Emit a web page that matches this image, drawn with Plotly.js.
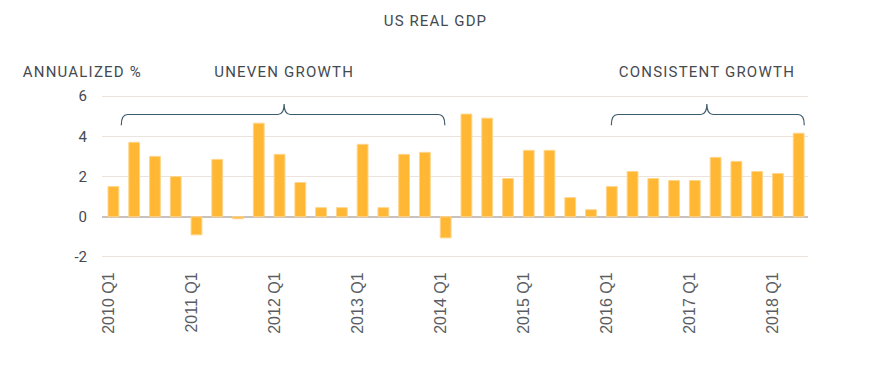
<!DOCTYPE html>
<html>
<head>
<meta charset="utf-8">
<script src="https://cdn.plot.ly/plotly-3.0.1.min.js"></script>
<style>
html,body{margin:0;padding:0;background:#fff;}
#chart{width:871px;height:371px;}
#chart .gtitle{letter-spacing:1.1px;}
#chart .annotation-text{letter-spacing:1.2px;}
</style>
</head>
<body>
<div id="chart"></div>
<script>
const quarters = [
  "2010 Q1","2010 Q2","2010 Q3","2010 Q4",
  "2011 Q1","2011 Q2","2011 Q3","2011 Q4",
  "2012 Q1","2012 Q2","2012 Q3","2012 Q4",
  "2013 Q1","2013 Q2","2013 Q3","2013 Q4",
  "2014 Q1","2014 Q2","2014 Q3","2014 Q4",
  "2015 Q1","2015 Q2","2015 Q3","2015 Q4",
  "2016 Q1","2016 Q2","2016 Q3","2016 Q4",
  "2017 Q1","2017 Q2","2017 Q3","2017 Q4",
  "2018 Q1","2018 Q2"
];
const gdpGrowth = [
  1.5, 3.7, 3.0, 2.0,
  -0.9, 2.85, -0.1, 4.65,
  3.1, 1.7, 0.45, 0.45,
  3.6, 0.45, 3.1, 3.2,
  -1.05, 5.1, 4.9, 1.9,
  3.3, 3.3, 0.95, 0.35,
  1.5, 2.25, 1.9, 1.8,
  1.8, 2.95, 2.75, 2.25,
  2.15, 4.15
];
const tickQuarters = ["2010 Q1","2011 Q1","2012 Q1","2013 Q1","2014 Q1","2015 Q1","2016 Q1","2017 Q1","2018 Q1"];
const yTicks = [-2, 0, 2, 4, 6];
const phases = [
  {label: "UNEVEN GROWTH", from: 0.38, to: 15.96, mid: 8.22},
  {label: "CONSISTENT GROWTH", from: 23.98, to: 33.27, mid: 28.58}
];

const dinFont = "Roboto, 'DejaVu Sans', sans-serif";
const textColor = "#454a50";

function bracePath(x0, x1, xm) {
  const yEnd = 4.55, yLine = 5.08, yPeak = 5.6, dx = 0.3;
  return `M ${x0},${yEnd} Q ${x0},${yLine} ${x0+dx},${yLine} ` +
         `L ${xm-dx},${yLine} Q ${xm},${yLine} ${xm},${yPeak} ` +
         `Q ${xm},${yLine} ${xm+dx},${yLine} ` +
         `L ${x1-dx},${yLine} Q ${x1},${yLine} ${x1},${yEnd}`;
}

const shapes = phases.map(p => ({
  type: 'path', xref: 'x', yref: 'y',
  path: bracePath(p.from, p.to, p.mid),
  line: {color: '#3e5b6d', width: 1.2}
}));

const annotations = [
  {text: "ANNUALIZED %", xref: 'paper', yref: 'paper', x: -0.1055, y: 1.141,
   xanchor: 'left', yanchor: 'middle', showarrow: false,
   font: {family: dinFont, size: 15, color: textColor}}
].concat(phases.map(p => ({
  text: p.label, xref: 'x', yref: 'paper', x: p.mid, y: 1.141,
  xanchor: 'center', yanchor: 'middle', showarrow: false,
  font: {family: dinFont, size: 15, color: textColor}
})));

const data = [{
  type: 'bar',
  x: quarters,
  y: gdpGrowth,
  marker: {color: '#ffb734', line: {color: '#ffd58a', width: 1}},
  hoverinfo: 'x+y'
}];

const layout = {
  width: 871, height: 371,
  margin: {l: 102, r: 63, t: 95, b: 113},
  paper_bgcolor: '#ffffff', plot_bgcolor: '#ffffff',
  showlegend: false,
  bargap: 0.48,
  title: {text: "US REAL GDP", x: 0.5, xanchor: 'center', y: 0.943, yanchor: 'middle',
          yref: 'container', font: {family: dinFont, size: 15, color: textColor}},
  xaxis: {
    type: 'category',
    range: [-0.55, 33.45],
    tickmode: 'array', tickvals: tickQuarters, ticktext: tickQuarters,
    tickangle: -90,
    ticks: 'outside', ticklen: 7, tickcolor: 'rgba(0,0,0,0)',
    ticklabelshift: -5,
    tickfont: {family: "'Liberation Sans', Arial, sans-serif", size: 16, color: '#5a5e63'},
    showgrid: false, zeroline: false, showline: false
  },
  yaxis: {
    range: [-2.05, 6.05],
    tickmode: 'array', tickvals: yTicks, ticktext: yTicks.map(String),
    ticks: 'outside', ticklen: 11, tickcolor: 'rgba(0,0,0,0)',
    tickfont: {family: dinFont, size: 15, color: textColor},
    showgrid: true, gridcolor: '#ebe3dc', gridwidth: 1,
    zeroline: true, zerolinecolor: '#c8c1bd', zerolinewidth: 2,
    showline: false
  },
  shapes: shapes,
  annotations: annotations
};

Plotly.newPlot('chart', data, layout, {displayModeBar: false, staticPlot: true});
</script>
</body>
</html>
